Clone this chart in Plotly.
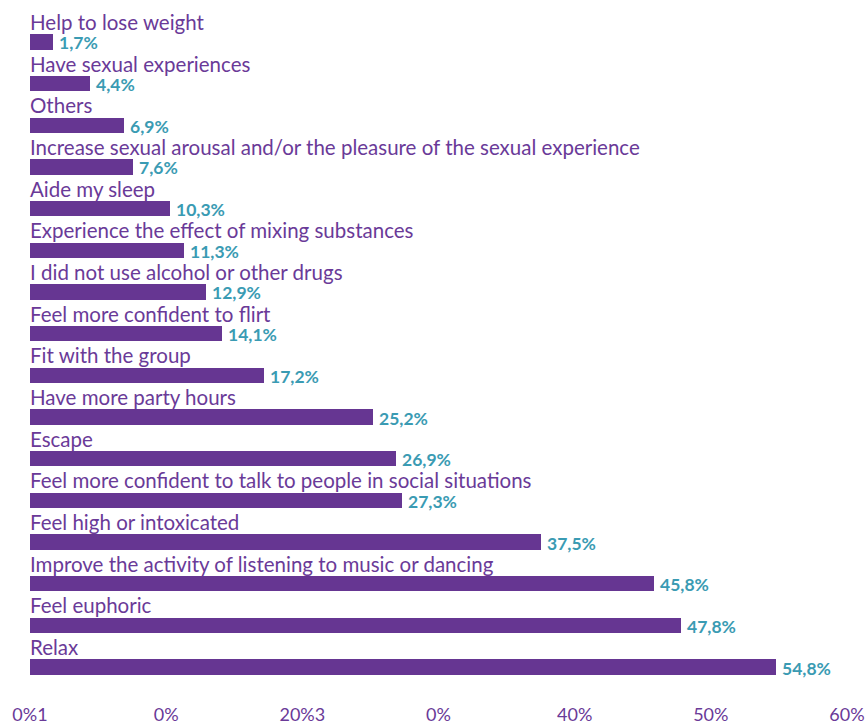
import plotly.graph_objects as go

# Motivations for using alcohol or other drugs, listed top to bottom
categories = [
    "Help to lose weight",
    "Have sexual experiences",
    "Others",
    "Increase sexual arousal and/or the pleasure of the sexual experience",
    "Aide my sleep",
    "Experience the effect of mixing substances",
    "I did not use alcohol or other drugs",
    "Feel more confident to flirt",
    "Fit with the group",
    "Have more party hours",
    "Escape",
    "Feel more confident to talk to people in social situations",
    "Feel high or intoxicated",
    "Improve the activity of listening to music or dancing",
    "Feel euphoric",
    "Relax",
]
values = [1.7, 4.4, 6.9, 7.6, 10.3, 11.3, 12.9, 14.1, 17.2, 25.2, 26.9, 27.3,
          37.5, 45.8, 47.8, 54.8]

tick_vals = [0, 10, 20, 30, 40, 50, 60]
tick_text = ["0%1", "0%", "20%3", "0%", "40%", "50%", "60%"]

BAR = "#663692"
LABEL = "#6a3a98"
VALUE = "#3a9bb3"
FONT = "Lato"


def pct(v):
    return f"{v:.1f}".replace(".", ",") + "%"


fig = go.Figure(
    go.Bar(
        x=values,
        y=categories,
        orientation="h",
        marker=dict(color=BAR, line=dict(width=0)),
        width=0.37,
        hoverinfo="skip",
    )
)

annotations = []
for cat, v in zip(categories, values):
    # category name sits just above its bar
    annotations.append(dict(
        x=0, y=cat, xref="x", yref="y", text=cat, showarrow=False,
        xanchor="left", yanchor="bottom", yshift=6, xshift=-2,
        font=dict(family=FONT, size=20.5, color=LABEL),
    ))
    # value label at the end of the bar
    annotations.append(dict(
        x=v, y=cat, xref="x", yref="y", text=pct(v), showarrow=False,
        xanchor="left", yanchor="middle", xshift=4, yshift=-1,
        font=dict(family=FONT, size=17.5, color=VALUE, weight="bold"),
    ))

n = len(categories)

fig.update_layout(
    width=866,
    height=724,
    margin=dict(l=30, r=19, t=21, b=36),
    plot_bgcolor="white",
    paper_bgcolor="white",
    showlegend=False,
    bargap=0,
    annotations=annotations,
    font=dict(family=FONT),
)
fig.update_xaxes(
    range=[0, 60],
    tickvals=tick_vals,
    ticktext=tick_text,
    showgrid=False,
    zeroline=False,
    showline=False,
    ticks="",
    automargin=False,
    ticklabelstandoff=14,
    tickfont=dict(family=FONT, size=18, color=LABEL),
)
fig.update_yaxes(
    range=[n - 0.5, -0.5],
    showticklabels=False,
    showgrid=False,
    zeroline=False,
    showline=False,
    ticks="",
    automargin=False,
)

fig.write_html("out.html")
